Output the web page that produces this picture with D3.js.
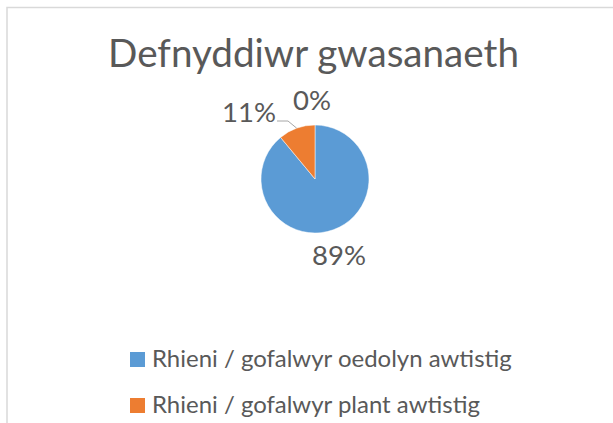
<!DOCTYPE html>
<html>
<head>
<meta charset="utf-8">
<script src="https://cdn.jsdelivr.net/npm/d3@7"></script>
<style>
  body { margin: 0; background: #fff; }
  svg { display: block; }
  text { font-family: Lato, "Noto Sans", sans-serif; fill: #595959; }
</style>
</head>
<body>
<svg width="613" height="423"></svg>
<script>
"use strict";

const title = "Defnyddiwr gwasanaeth";
const categories = ["Rhieni / gofalwyr oedolyn awtistig", "Rhieni / gofalwyr plant awtistig", ""];
const values = [89, 11, 0];
const labels = ["89%", "11%", "0%"];
const colours = ["#5B9BD5", "#ED7D31", "#A5A5A5"];

window.addEventListener("load", draw);

// shrink/grow a text element's font so it spans the given width
function fitWidth(sel, width) {
    const size = parseFloat(sel.attr("font-size"));
    const w = sel.node().getComputedTextLength();
    sel.attr("font-size", size * width / w);
}

function draw() {
    const svg = d3.select("svg");

    // chart frame (runs off the right and bottom edge of the picture)
    svg.append("rect")
        .attr("x", 7).attr("y", 7.5)
        .attr("width", 640).attr("height", 440)
        .attr("fill", "#fff")
        .attr("stroke", "#D9D9D9")
        .attr("stroke-width", 1.5);

    const t = svg.append("text")
        .attr("x", 313.5).attr("y", 67)
        .attr("text-anchor", "middle")
        .attr("font-size", 36)
        .text(title);
    fitWidth(t, 411);

    const cx = 315, cy = 179, r = 54;
    const g = svg.append("g").attr("transform", `translate(${cx},${cy})`);

    const pie = d3.pie().sort(null).value(d => d)(values);
    const arc = d3.arc().innerRadius(0).outerRadius(r);

    g.selectAll("path.slice")
        .data(pie.filter(d => d.value > 0))
        .enter()
        .append("path")
        .attr("class", "slice")
        .attr("d", arc)
        .attr("fill", d => colours[d.index])
        .attr("stroke", "#fff")
        .attr("stroke-width", 0.5);

    const mid = d => (d.startAngle + d.endAngle) / 2;
    const pt = (a, rad) => [Math.sin(a) * rad, -Math.cos(a) * rad];

    // label positions: outside end, the small one pushed left with a leader line
    pie.forEach(d => {
        const a = mid(d);
        let [x, y] = pt(a, r + 26);
        let anchor = "middle";
        if (d.index === 1) {
            const edge = pt(a, r);
            x = -38; y = -58;
            g.append("polyline")
                .attr("points", [[x, y], [x + 11, y], edge].map(p => p.join(",")).join(" "))
                .attr("fill", "none")
                .attr("stroke", "#A6A6A6")
                .attr("stroke-width", 1);
            x -= 1; anchor = "end";
            y += 1;
        }
        if (d.index === 2) { x = -3; y = -69; }
        if (d.index === 0) { x = 24; y = 86; }
        g.append("text")
            .attr("x", x).attr("y", y)
            .attr("text-anchor", anchor)
            .attr("font-size", 27.5)
            .text(labels[d.index]);
    });

    // legend
    const legend = svg.append("g")
        .selectAll("g")
        .data(categories.filter(c => c !== ""))
        .enter()
        .append("g")
        .attr("transform", (d, i) => `translate(130, ${352 + i * 46})`);
    legend.append("rect")
        .attr("width", 15).attr("height", 15)
        .attr("fill", (d, i) => colours[i]);
    legend.append("text")
        .attr("x", 22).attr("y", 15)
        .attr("font-size", 20)
        .text(d => d)
        .each(function (d, i) { if (i === 0) fitWidth(d3.select(this), 360); });
    // same size for the second row
    const fs = legend.select("text").attr("font-size");
    legend.selectAll("text").attr("font-size", fs);
}
</script>
</body>
</html>
